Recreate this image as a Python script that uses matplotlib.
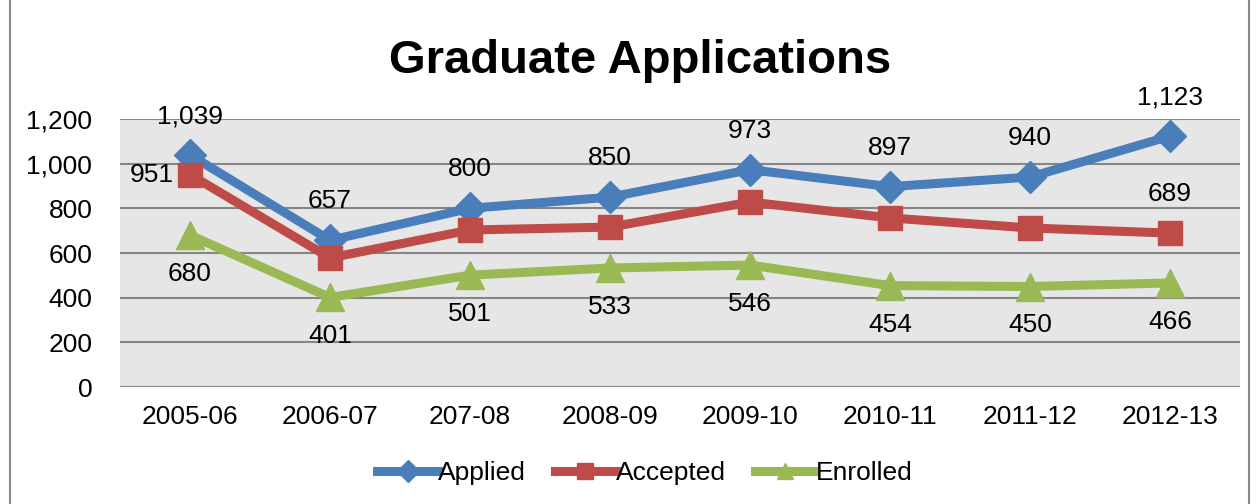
import matplotlib.pyplot as plt
from matplotlib.patches import Rectangle
from matplotlib.lines import Line2D

plt.rcParams['font.family'] = ['Liberation Sans', 'DejaVu Sans']

years = ['2005-06', '2006-07', '207-08', '2008-09', '2009-10', '2010-11', '2011-12', '2012-13']
applied = [1039, 657, 800, 850, 973, 897, 940, 1123]
accepted = [951, 578, 703, 716, 828, 757, 712, 689]
enrolled = [680, 401, 501, 533, 546, 454, 450, 466]

blue = '#4A7EBB'
red = '#BE4B48'
green = '#98B954'
fs = 19

fig = plt.figure(figsize=(12.57, 5.04), dpi=100)
ax = fig.add_axes([0.0955, 0.232, 0.891, 0.532])
ax.set_facecolor('#E6E6E6')

x = list(range(len(years)))
ax.plot(x, applied, color=blue, lw=6.5, marker='D', ms=16, zorder=3)
ax.plot(x, accepted, color=red, lw=6.5, marker='s', ms=17, zorder=4)
ax.plot(x, enrolled, color=green, lw=6.5, marker='^', ms=20, zorder=3)

# data labels
for i, v in enumerate(applied):
    ax.annotate('{:,}'.format(v), (i, v), xytext=(0, 28), textcoords='offset points',
                ha='center', va='center', fontsize=fs, annotation_clip=False)
for i, v in enumerate(enrolled):
    ax.annotate('{:,}'.format(v), (i, v), xytext=(0, -28), textcoords='offset points',
                ha='center', va='center', fontsize=fs, annotation_clip=False)
ax.annotate('{:,}'.format(accepted[0]), (0, accepted[0]), xytext=(-12, 0), textcoords='offset points',
            ha='right', va='center', fontsize=fs)
ax.annotate('{:,}'.format(accepted[-1]), (7, accepted[-1]), xytext=(0, 28), textcoords='offset points',
            ha='center', va='center', fontsize=fs)

ax.set_xlim(-0.5, 7.5)
ax.set_ylim(0, 1200)
ax.set_yticks(range(0, 1201, 200))
ax.set_yticklabels(['{:,}'.format(t) for t in range(0, 1201, 200)])
ax.set_xticks(x)
ax.set_xticklabels(years)
ax.tick_params(axis='both', length=0, labelsize=fs)
ax.tick_params(axis='y', pad=20)
ax.tick_params(axis='x', pad=13)
ax.grid(axis='y', color='#868686', lw=1.5, zorder=0)
ax.set_axisbelow(True)
for s in ax.spines.values():
    s.set_visible(False)

fig.text(0.509, 0.878, 'Graduate Applications', ha='center', va='center', fontsize=34, fontweight='bold')

handles = [Line2D([], [], color=blue, lw=6.5, marker='D', ms=11),
           Line2D([], [], color=red, lw=6.5, marker='s', ms=12),
           Line2D([], [], color=green, lw=6.5, marker='^', ms=12)]
fig.legend(handles, ['Applied', 'Accepted', 'Enrolled'], loc='center', bbox_to_anchor=(0.513, 0.062),
           ncol=3, frameon=False, fontsize=fs, handlelength=2.3, handletextpad=0.0, columnspacing=1.1)

fig.patches.append(Rectangle((0.008, -0.01), 0.986, 1.02, transform=fig.transFigure,
                             fill=False, edgecolor='#888888', lw=1.5))

plt.savefig('out.png', dpi=100)
